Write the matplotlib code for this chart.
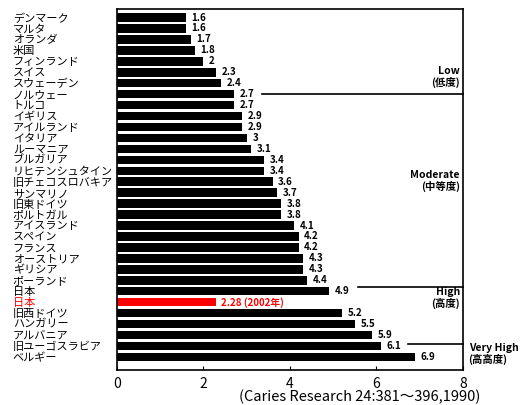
import matplotlib
matplotlib.use("Agg")
import matplotlib.pyplot as plt

plt.rcParams['font.family'] = ['Noto Sans CJK JP', 'DejaVu Sans']

countries = ["デンマーク", "マルタ", "オランダ", "米国", "フィンランド", "スイス",
             "スウェーデン", "ノルウェー", "トルコ", "イギリス", "アイルランド",
             "イタリア", "ルーマニア", "ブルガリア", "リヒテンシュタイン",
             "旧チェコスロバキア", "サンマリノ", "旧東ドイツ", "ポルトガル",
             "アイスランド", "スペイン", "フランス", "オーストリア", "ギリシア",
             "ポーランド", "日本", "日本", "旧西ドイツ", "ハンガリー", "アルバニア",
             "旧ユーゴスラビア", "ベルギー"]
dmft = [1.6, 1.6, 1.7, 1.8, 2, 2.3, 2.4, 2.7, 2.7, 2.9, 2.9, 3, 3.1, 3.4, 3.4,
        3.6, 3.7, 3.8, 3.8, 4.1, 4.2, 4.2, 4.3, 4.3, 4.4, 4.9, 2.28, 5.2, 5.5,
        5.9, 6.1, 6.9]
value_labels = ["1.6", "1.6", "1.7", "1.8", "2", "2.3", "2.4", "2.7", "2.7",
                "2.9", "2.9", "3", "3.1", "3.4", "3.4", "3.6", "3.7", "3.8",
                "3.8", "4.1", "4.2", "4.2", "4.3", "4.3", "4.4", "4.9",
                "2.28 (2002年)", "5.2", "5.5", "5.9", "6.1", "6.9"]
highlight = 26

# level boundaries: (row, x start), and level names
boundaries = [(7, 3.36), (24.6, 5.57), (29.8, 6.73)]
levels = ["Low\n(低度)", "Moderate\n(中等度)", "High\n(高度)", "Very High\n(高高度)"]
level_rows = [5.4, 14.9, 25.6, 30.7]

fig = plt.figure(figsize=(5.26, 4.05), dpi=100)
ax = fig.add_axes([0.2224, 0.0864, 0.6578, 0.8914])

ypos = list(range(len(countries)))
colors = ["red" if i == highlight else "black" for i in ypos]
ax.barh(ypos, dmft, height=0.78, color=colors)

for i, (v, lab) in enumerate(zip(dmft, value_labels)):
    ax.annotate(lab, (v, i), xytext=(4, 0), textcoords="offset points",
                va="center", ha="left", fontsize=7, fontweight="bold",
                color=colors[i])

ax.set_xlim(0, 8)
ax.set_ylim(32.2, -0.78)
ax.set_xticks([0, 2, 4, 6, 8])
ax.tick_params(axis="x", direction="in", length=3, labelsize=10, pad=5)
ax.set_yticks(ypos)
ax.set_yticklabels(countries, fontsize=8)
ax.tick_params(axis="y", length=0, pad=75)
for i, t in enumerate(ax.get_yticklabels()):
    t.set_ha("left")
    if i == highlight:
        t.set_color("red")

for sp in ax.spines.values():
    sp.set_linewidth(1.2)

for row, x0 in boundaries:
    ax.plot([x0, 8], [row, row], color="black", lw=1.2, clip_on=False)

for k in range(3):
    ax.text(7.93, level_rows[k], levels[k], ha="right", va="center",
            fontsize=7.5, fontweight="bold", linespacing=1.1)
ax.text(8.13, level_rows[3], levels[3], ha="left", va="center",
        fontsize=7.5, fontweight="bold", linespacing=1.1, clip_on=False)

fig.text(0.684, 0.02, "(Caries Research 24:381～396,1990)", ha="center",
         va="center", fontsize=10.5)

fig.savefig("out.png", dpi=100)
